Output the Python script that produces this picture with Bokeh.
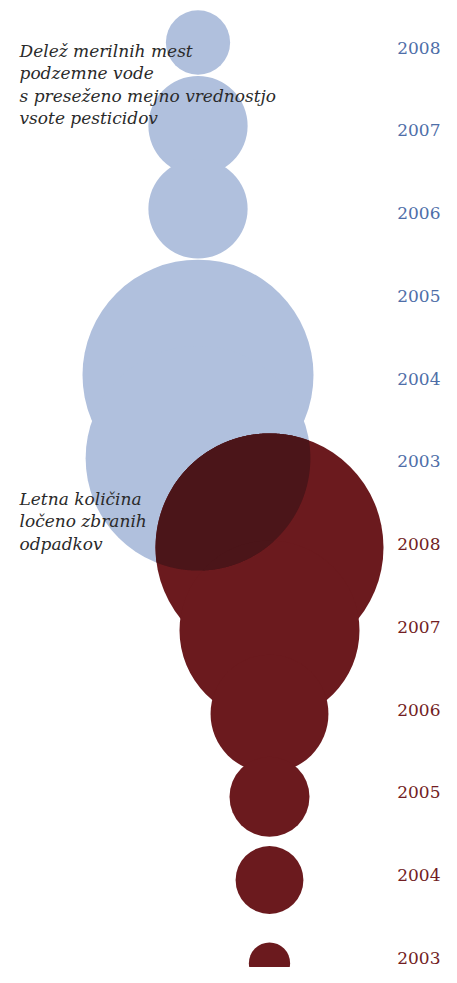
import numpy as np
from bokeh.plotting import figure
from bokeh.models import Range1d, ColumnDataSource
from bokeh.core.properties import value
from bokeh.embed import file_html
from bokeh.resources import INLINE

# ---- data ----
years = ["2008", "2007", "2006", "2005", "2004", "2003"]
# share of groundwater monitoring sites exceeding the pesticide-sum limit (%)
pesticide_share = [1.3, 3.1, 3.1, 0.8, 16.8, 15.9]
# annual amount of separately collected waste (1000 t)
waste_amount = [520, 324, 139, 64, 46, 17]

title_blue = ["Delež merilnih mest", "podzemne vode",
              "s preseženo mejno vrednostjo", "vsote pesticidov"]
title_red = ["Letna količina", "ločeno zbranih", "odpadkov"]

# ---- styling / layout ----
W, H = 441, 967
BLUE = "#b0c0dd"
RED = "#6b1a1e"
DARK = "#4b1519"
BLUE_TXT = "#4e6ea8"
RED_TXT = "#721d23"
TXT = "#2a2a2a"

row0, row_step = 55.0, 83.15
label_step = 82.75
text_shift = -8          # compensate renderer baseline offset
blue_x, red_x = 197.5, 269.0
blue_scale = 115.5 / np.sqrt(16.8)
red_scale = 114.0 / np.sqrt(520)

p = figure(width=W, height=H, output_backend="svg", toolbar_location=None,
           x_range=Range1d(0, W), y_range=Range1d(H, 0),
           min_border=0, outline_line_color=None)
p.axis.visible = False
p.grid.visible = False
p.background_fill_color = "white"
p.border_fill_color = "white"

n = len(years)
rows_blue = [row0 + row_step * i for i in range(n)]
rows_red = [row0 + row_step * (i + n) for i in range(n)]
label_rows_blue = [row0 + text_shift + label_step * i for i in range(n)]
label_rows_red = [row0 + text_shift + label_step * (i + n) for i in range(n)]

blue = ColumnDataSource(dict(
    x=[blue_x] * n,
    y=[r - 13 for r in rows_blue],
    r=[blue_scale * np.sqrt(v) for v in pesticide_share]))
red = ColumnDataSource(dict(
    x=[red_x] * n,
    y=[r - 7 for r in rows_red],
    r=[red_scale * np.sqrt(v) for v in waste_amount]))

p.circle(x="x", y="y", radius="r", source=blue, fill_color=BLUE, line_color=None)
p.circle(x="x", y="y", radius="r", source=red, fill_color=RED, line_color=None)


def lens(c1, c2):
    (x1, y1, r1), (x2, y2, r2) = c1, c2
    t = np.linspace(0, 2 * np.pi, 1440, endpoint=False)
    ax, ay = x1 + r1 * np.cos(t), y1 + r1 * np.sin(t)
    bx, by = x2 + r2 * np.cos(t), y2 + r2 * np.sin(t)
    ka = (ax - x2) ** 2 + (ay - y2) ** 2 <= r2 ** 2
    kb = (bx - x1) ** 2 + (by - y1) ** 2 <= r1 ** 2
    px = np.concatenate([ax[ka], bx[kb]])
    py = np.concatenate([ay[ka], by[kb]])
    if len(px) < 3:
        return None
    mx, my = px.mean(), py.mean()
    order = np.argsort(np.arctan2(py - my, px - mx))
    return list(px[order]), list(py[order])


xs, ys = [], []
bd, rd = blue.data, red.data
for i in range(n):
    for j in range(n):
        c1 = (rd["x"][i], rd["y"][i], rd["r"][i])
        c2 = (bd["x"][j], bd["y"][j], bd["r"][j])
        d = np.hypot(c1[0] - c2[0], c1[1] - c2[1])
        if d < c1[2] + c2[2]:
            res = lens(c1, c2)
            if res:
                xs.append(res[0])
                ys.append(res[1])
if xs:
    p.patches(xs=xs, ys=ys, fill_color=DARK, line_color=None)

# year labels
lab_font = value("DejaVu Serif")
p.text(x=[440] * n, y=label_rows_blue, text=years, text_font=lab_font,
       text_font_size="17px", text_color=BLUE_TXT, text_baseline="alphabetic",
       text_align="right")
p.text(x=[440] * n, y=label_rows_red, text=years, text_font=lab_font,
       text_font_size="17px", text_color=RED_TXT, text_baseline="alphabetic",
       text_align="right")

# titles
line_h = 22.5
p.text(x=[19] * len(title_blue),
       y=[58 + text_shift + line_h * i for i in range(len(title_blue))],
       text=title_blue, text_font=lab_font, text_font_style="italic",
       text_font_size="17px", text_color=TXT, text_baseline="alphabetic")
p.text(x=[19] * len(title_red),
       y=[506 + text_shift + line_h * i for i in range(len(title_red))],
       text=title_red, text_font=lab_font, text_font_style="italic",
       text_font_size="17px", text_color=TXT, text_baseline="alphabetic")

open("out.html", "w").write(file_html(p, INLINE))
